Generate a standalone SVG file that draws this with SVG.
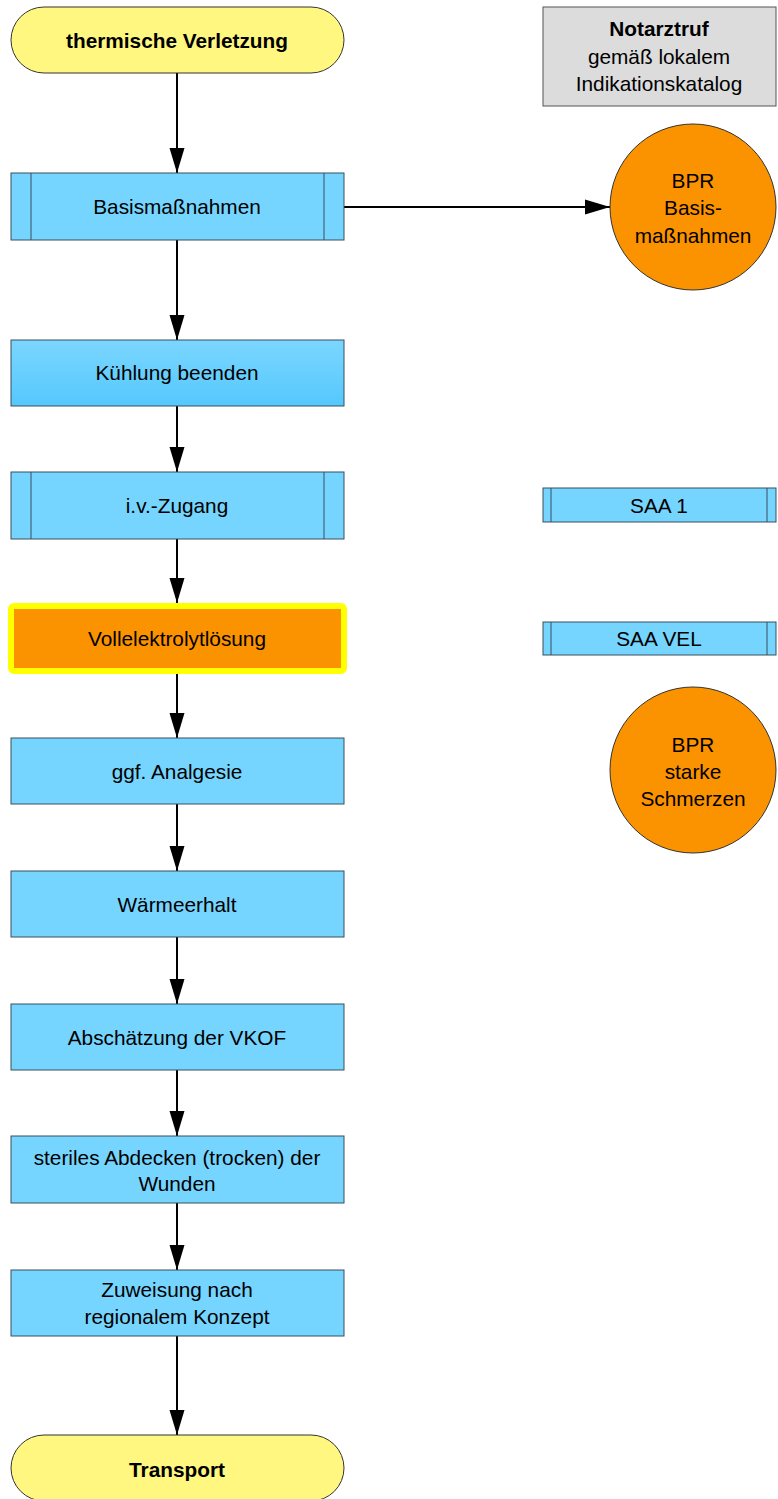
<svg xmlns="http://www.w3.org/2000/svg" width="778" height="1499" viewBox="0 0 778 1499">
<defs>
<linearGradient id="g1" x1="0" y1="0" x2="0" y2="1"><stop offset="0" stop-color="#7bd6ff"/><stop offset="1" stop-color="#55c8fc"/></linearGradient>
<marker id="arr" markerWidth="25" markerHeight="16" viewBox="0 0 25 16" refX="25" refY="8" orient="auto" markerUnits="userSpaceOnUse"><path d="M0,0.5 L25,8 L0,15.5 z" fill="#000"/></marker>
</defs>
<style>
text{font-family:"Liberation Sans",Arial,sans-serif;font-size:20.8px;fill:#000;text-anchor:middle;dominant-baseline:central}
.b{font-weight:bold}
.term{fill:#fff77f;stroke:#333;stroke-width:1}
.proc{fill:#75d5ff;stroke:#3a4f5c;stroke-width:1}
.sub{fill:none;stroke:#3a4f5c;stroke-width:1}
.circ{fill:#fb9200;stroke:#333;stroke-width:1}
.conn{stroke:#000;stroke-width:2;fill:none;marker-end:url(#arr)}
</style>
<g id="connectors">
<line class="conn" x1="177" y1="73" x2="177" y2="173"/>
<line class="conn" x1="177" y1="240" x2="177" y2="340"/>
<line class="conn" x1="177" y1="406" x2="177" y2="472"/>
<line class="conn" x1="177" y1="539" x2="177" y2="603"/>
<line class="conn" x1="177" y1="674" x2="177" y2="738"/>
<line class="conn" x1="177" y1="804" x2="177" y2="871"/>
<line class="conn" x1="177" y1="937" x2="177" y2="1004"/>
<line class="conn" x1="177" y1="1070" x2="177" y2="1136"/>
<line class="conn" x1="177" y1="1203" x2="177" y2="1270"/>
<line class="conn" x1="177" y1="1336" x2="177" y2="1435"/>
<line class="conn" x1="344" y1="207" x2="610" y2="207"/>
</g>
<g id="start"><rect class="term" x="11" y="7" width="333" height="66" rx="33"/><text class="b" x="177" y="40">thermische Verletzung</text></g>
<g id="notarzt"><rect x="543" y="7" width="233" height="99" fill="#dcdcdc" stroke="#555"/><text class="b" x="659" y="28">Notarztruf</text><text x="659" y="56">gemäß lokalem</text><text x="659" y="83">Indikationskatalog</text></g>
<g id="basis"><rect class="proc" x="11" y="173" width="333" height="67"/><line class="sub" x1="31" y1="173" x2="31" y2="240"/><line class="sub" x1="324" y1="173" x2="324" y2="240"/><text x="177" y="206">Basismaßnahmen</text></g>
<g id="bpr1"><circle class="circ" cx="693" cy="207" r="83"/><text x="693" y="180">BPR</text><text x="693" y="207">Basis-</text><text x="693" y="235">maßnahmen</text></g>
<g id="kuehlung"><rect x="11" y="340" width="333" height="66" fill="url(#g1)" stroke="#3a4f5c"/><text x="177" y="372">Kühlung beenden</text></g>
<g id="iv"><rect class="proc" x="11" y="472" width="333" height="67"/><line class="sub" x1="31" y1="472" x2="31" y2="539"/><line class="sub" x1="324" y1="472" x2="324" y2="539"/><text x="177" y="505">i.v.-Zugang</text></g>
<g id="saa1"><rect class="proc" x="543" y="488" width="233" height="34"/><line class="sub" x1="551" y1="488" x2="551" y2="522"/><line class="sub" x1="767" y1="488" x2="767" y2="522"/><text x="659" y="505">SAA 1</text></g>
<g id="vel"><rect x="11" y="606" width="333" height="65" rx="3" fill="#fb9200" stroke="#ffff00" stroke-width="6"/><text x="177" y="638">Vollelektrolytlösung</text></g>
<g id="saavel"><rect class="proc" x="543" y="622" width="233" height="33"/><line class="sub" x1="551" y1="622" x2="551" y2="655"/><line class="sub" x1="767" y1="622" x2="767" y2="655"/><text x="659" y="638">SAA VEL</text></g>
<g id="bpr2"><circle class="circ" cx="693" cy="770" r="83"/><text x="693" y="744">BPR</text><text x="693" y="771">starke</text><text x="693" y="798">Schmerzen</text></g>
<g id="analgesie"><rect class="proc" x="11" y="738" width="333" height="66"/><text x="177" y="771">ggf. Analgesie</text></g>
<g id="waerme"><rect class="proc" x="11" y="871" width="333" height="66"/><text x="177" y="904">Wärmeerhalt</text></g>
<g id="vkof"><rect class="proc" x="11" y="1004" width="333" height="66"/><text x="177" y="1037">Abschätzung der VKOF</text></g>
<g id="steril"><rect class="proc" x="11" y="1136" width="333" height="67"/><text x="177" y="1157">steriles Abdecken (trocken) der</text><text x="177" y="1183">Wunden</text></g>
<g id="zuweisung"><rect class="proc" x="11" y="1270" width="333" height="66"/><text x="177" y="1289">Zuweisung nach</text><text x="177" y="1316">regionalem Konzept</text></g>
<g id="transport"><rect class="term" x="11" y="1435" width="333" height="66" rx="33"/><text class="b" x="177" y="1469">Transport</text></g>
</svg>
